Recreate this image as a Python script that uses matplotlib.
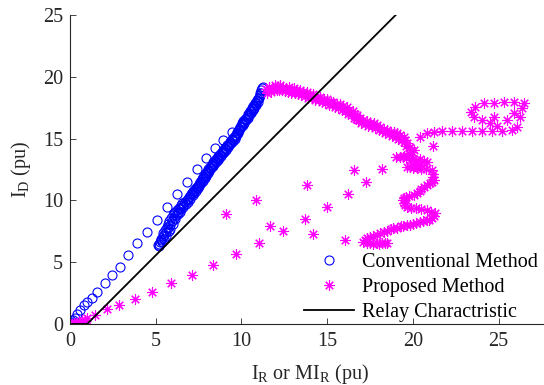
import matplotlib
matplotlib.use('Agg')
import matplotlib.pyplot as plt

plt.rcParams['font.family'] = 'Liberation Serif'
plt.rcParams['mathtext.fontset'] = 'custom'
plt.rcParams['mathtext.rm'] = 'Liberation Serif'

# Conventional method (blue circles): sparse ray + dense band (two passes)
conv_x = [0.0, 0.05, 0.12, 0.19, 0.3, 0.42, 0.58, 0.8, 1.02, 1.27, 1.6, 2.04, 2.45, 2.92, 3.4, 3.93, 4.5, 5.10, 5.68,
          6.26, 6.85, 7.43, 7.95, 8.46, 8.95, 9.44,
          5.16, 5.25, 5.30, 5.40, 5.45, 5.55, 5.64, 5.70, 5.80, 5.90, 5.98, 6.08, 6.15, 6.23, 6.35, 6.45,
          6.55, 6.68, 6.81, 6.95, 7.08, 7.20, 7.30, 7.40, 7.50, 7.60, 7.70, 7.78, 7.88, 7.98, 8.07, 8.17,
          8.27, 8.37, 8.46, 8.56, 8.66, 8.75, 8.85, 8.95, 9.05, 9.15, 9.25, 9.34, 9.44, 9.54, 9.63, 9.73,
          9.83, 9.92, 10.02, 10.12, 10.21, 10.31, 10.41, 10.51, 10.61, 10.70, 10.80, 10.90, 11.00, 11.10,
          11.19, 11.25,
          5.22, 5.35, 5.5, 5.6, 5.75, 5.85, 6.0, 6.12, 6.3, 6.4, 6.5, 6.62, 6.75, 6.88, 7.0, 7.15, 7.25,
          7.35, 7.45, 7.55, 7.65, 7.75, 7.85, 7.95, 8.05, 8.12, 8.22, 8.32, 8.42, 8.52, 8.62, 8.7, 8.8,
          8.9, 9.0, 9.1, 9.2, 9.3, 9.4, 9.5, 9.6, 9.68, 9.78, 9.88, 9.98, 10.07, 10.17, 10.26, 10.36,
          10.46, 10.56, 10.66, 10.75, 10.85, 10.95, 11.05, 11.15]
conv_y = [0.0, 0.1, 0.2, 0.32, 0.5, 0.8, 1.13, 1.5, 1.8, 2.08, 2.6, 3.29, 3.95, 4.64, 5.6, 6.53, 7.45, 8.41, 9.45,
          10.49, 11.5, 12.52, 13.4, 14.22, 14.9, 15.56,
          6.39, 6.6, 6.9, 7.1, 7.4, 7.6, 7.87, 8.1, 8.3, 8.55, 8.8, 9.0, 9.1, 9.22, 9.4, 9.6,
          9.75, 9.9, 10.03, 10.3, 10.55, 10.8, 10.95, 11.11, 11.3, 11.5, 11.7, 11.92, 12.1, 12.3, 12.5, 12.73,
          12.9, 13.1, 13.25, 13.40, 13.6, 13.75, 13.9, 14.08, 14.25, 14.45, 14.6, 14.75, 14.95, 15.1, 15.25, 15.43,
          15.7, 15.95, 16.24, 16.45, 16.6, 16.77, 17.0, 17.2, 17.45, 17.65, 17.85, 18.12, 18.4, 18.7,
          19.07, 19.2,
          6.3, 6.6, 6.9, 7.1, 7.5, 7.7, 8.1, 8.5, 8.9, 9.1, 9.3, 9.5, 9.7, 9.9, 10.1, 10.4, 10.6,
          10.8, 11.0, 11.2, 11.4, 11.6, 11.8, 12.0, 12.2, 12.4, 12.6, 12.8, 12.95, 13.1, 13.3, 13.45, 13.6,
          13.8, 13.95, 14.1, 14.3, 14.5, 14.65, 14.8, 15.0, 15.2, 15.45, 15.7, 15.95, 16.1, 16.3, 16.5, 16.7,
          16.9, 17.1, 17.3, 17.5, 17.75, 18.0, 18.3, 18.7]

# third pass through the dense blue band
conv_band_x = [5.19, 5.32, 5.47, 5.58, 5.72, 5.84, 5.95, 6.06, 6.2, 6.32, 6.42, 6.58, 6.72, 6.86, 7.0, 7.12,
               7.24, 7.36, 7.46, 7.56, 7.66, 7.76, 7.86, 7.96, 8.06, 8.16, 8.26, 8.36, 8.46, 8.56, 8.66, 8.76,
               8.86, 8.96, 9.06, 9.16, 9.26, 9.36, 9.46, 9.56, 9.66, 9.76, 9.86, 9.96, 10.06, 10.16, 10.26,
               10.36, 10.46, 10.56, 10.66, 10.76, 10.86, 10.96, 11.06, 11.16]
conv_band_y = [6.5, 6.8, 7.2, 7.45, 7.75, 8.05, 8.35, 8.6, 8.85, 9.1, 9.35, 9.6, 9.85, 10.1, 10.35, 10.6,
               10.8, 11.0, 11.2, 11.4, 11.6, 11.8, 12.0, 12.2, 12.4, 12.6, 12.8, 13.0, 13.15, 13.35, 13.5, 13.7,
               13.85, 14.0, 14.2, 14.4, 14.55, 14.7, 14.9, 15.05, 15.3, 15.5, 15.8, 16.05, 16.2, 16.4, 16.6,
               16.8, 17.0, 17.2, 17.4, 17.6, 17.9, 18.2, 18.5, 18.9]

# Proposed method (magenta stars)
prop_x = [0.1, 0.25, 0.4, 0.55, 0.7, 0.85, 1.0, 0.3, 0.6, 0.9,
          1.46, 2.14, 2.88, 3.79, 4.77, 5.90, 7.14, 8.37, 9.67, 11.05, 12.41, 14.15, 16.05,
          9.09, 10.85, 11.68, 13.72, 13.82, 14.98, 16.19, 16.58, 17.28, 18.19, 19.01, 21.15,
          11.45, 11.6, 11.8, 11.95, 12.1, 12.26, 12.45, 12.6, 12.8, 13.04, 13.2, 13.4, 13.6, 13.82, 14.0,
          14.2, 14.4, 14.59, 14.8, 15.0, 15.2, 15.37, 15.55, 15.75, 15.95, 16.15, 16.3, 16.5, 16.6, 16.74,
          16.9, 17.12, 17.3, 17.5, 17.71, 17.9, 18.1, 18.3, 18.49, 18.7, 18.9, 19.07, 19.25, 19.46, 19.55,
          19.65, 19.85, 20.04,
          11.5, 11.7, 11.9, 12.05, 12.2, 12.35, 12.55, 12.7, 12.9, 13.1, 13.3, 13.5, 13.7, 13.9, 14.1,
          14.3, 14.5, 14.7, 14.9, 15.1, 15.3, 15.45, 15.65, 15.85, 16.05, 16.2, 16.4, 16.55, 16.7, 16.82,
          17.0, 17.2, 17.4, 17.6, 17.8, 18.0, 18.2, 18.4, 18.6, 18.8, 19.0, 19.15, 19.35, 19.5, 19.6,
          19.75, 19.95,
          19.8, 19.5, 19.26, 19.6, 20.0, 20.43, 20.82, 20.5, 20.1, 19.65, 20.0, 20.5, 21.11, 21.2, 21.21,
          21.0, 20.82, 20.5, 20.24, 19.8, 19.46, 19.5, 19.65, 20.2, 20.82, 21.31, 21.11, 20.8, 20.43, 20.0,
          19.65, 19.3, 18.87, 18.5, 18.10, 17.7, 17.32, 17.12, 17.5, 17.90, 18.2, 18.49,
          19.4, 19.9, 20.2, 20.65, 20.3, 19.85, 20.25, 20.75, 21.15, 21.1, 20.65, 20.4, 20.05, 19.6, 19.45,
          19.55, 19.9, 20.5, 21.05, 21.25, 20.95, 20.6, 20.2, 19.85, 19.45, 19.1, 18.7, 18.3, 17.9, 17.5,
          17.2, 17.3, 17.7, 18.05, 18.35,
          20.43, 20.82, 21.21, 21.70, 22.28, 22.87, 23.45, 24.03, 24.62, 25.20, 25.79, 26.08,
          26.27, 26.37, 26.46, 25.88, 25.30, 24.71, 24.13, 23.64, 23.39, 23.55, 24.03, 24.52, 24.91,
          24.71, 25.49, 25.88]
prop_y = [0.0, 0.05, 0.1, 0.2, 0.3, 0.35, 0.45, 0.0, 0.0, 0.1,
          0.73, 1.19, 1.54, 2.05, 2.61, 3.29, 3.96, 4.77, 5.66, 6.58, 7.52, 7.28, 6.80,
          8.90, 10.03, 7.93, 8.47, 11.25, 9.49, 10.49, 12.46, 11.51, 12.51, 13.48, 14.40,
          19.0, 19.2, 19.1, 19.3, 19.2, 19.34, 19.2, 19.1, 19.15, 19.07, 18.9, 18.95, 18.8, 18.80, 18.6,
          18.6, 18.4, 18.39, 18.2, 18.2, 18.0, 17.99, 17.8, 17.8, 17.6, 17.58, 17.3, 17.2, 17.0, 16.91,
          16.7, 16.50, 16.4, 16.3, 16.24, 16.1, 15.9, 15.8, 15.70, 15.5, 15.5, 15.43, 15.3, 15.15, 14.9,
          14.62, 14.3, 14.08,
          18.7, 18.8, 18.9, 18.9, 18.95, 18.9, 18.85, 18.8, 18.7, 18.65, 18.6, 18.5, 18.45, 18.3, 18.3,
          18.15, 18.1, 17.95, 17.9, 17.75, 17.7, 17.55, 17.5, 17.3, 17.25, 17.0, 16.95, 16.7, 16.6, 16.5,
          16.3, 16.2, 16.05, 16.0, 15.85, 15.7, 15.6, 15.45, 15.35, 15.25, 15.15, 15.0, 14.85, 14.7, 14.4,
          14.2, 13.9,
          13.8, 13.6, 13.49, 13.4, 13.35, 13.32, 13.13, 12.9, 12.8, 12.73, 12.6, 12.55, 12.46, 12.1, 11.65,
          11.4, 11.25, 10.9, 10.57, 10.35, 10.17, 9.8, 9.49, 9.35, 9.22, 8.95, 8.55, 8.4, 8.28, 8.1,
          8.01, 7.9, 7.74, 7.55, 7.34, 7.1, 6.93, 6.66, 6.55, 6.53, 6.55, 6.58,
          13.55, 13.3, 13.3, 13.2, 12.85, 12.7, 12.6, 12.5, 11.9, 11.5, 11.1, 10.75, 10.45, 10.25, 10.0,
          9.6, 9.4, 9.3, 9.1, 8.75, 8.45, 8.35, 8.2, 8.05, 7.95, 7.8, 7.65, 7.45, 7.2, 7.0,
          6.8, 6.55, 6.5, 6.5, 6.55,
          15.15, 15.43, 15.56, 15.61, 15.61, 15.61, 15.61, 15.61, 15.61, 15.61, 15.70, 15.97,
          16.77, 17.45, 17.85, 17.99, 17.99, 17.90, 17.85, 17.58, 17.18, 16.77, 16.50, 16.24, 16.02,
          16.77, 16.50, 17.05]

# Relay characteristic
relay_x = [0, 1.0, 19.0]
relay_y = [0, 0, 25.0]

fig = plt.figure(figsize=(5.44, 3.85), dpi=100)
ax = fig.add_axes([70/544, 61/385, 480/544, 309/385])

circle_style = dict(linestyle='none', marker='o', markersize=6.5, markerfacecolor='none',
                    markeredgecolor='#0000ff', markeredgewidth=0.8)
ax.plot(conv_x, conv_y, label='Conventional Method', **circle_style)
ax.plot(conv_band_x, conv_band_y, **circle_style)
ax.plot(prop_x, prop_y, linestyle='none', marker=(8, 2, 0), markersize=7.5,
        markeredgecolor='#ff00ff', markeredgewidth=0.8, label='Proposed Method')
ax.plot(relay_x, relay_y, color='black', linewidth=1.3, label='Relay Charactristic')

ax.set_xlim(0, 28)
ax.set_ylim(0, 25)
ax.set_xticks([0, 5, 10, 15, 20, 25])
ax.set_yticks([0, 5, 10, 15, 20, 25])
ax.tick_params(direction='in', length=4, labelsize=14.5, colors='#262626', width=0.6)
ax.tick_params(axis='x', pad=6)
ax.tick_params(axis='y', pad=5)
for s in ['top', 'right']:
    ax.spines[s].set_visible(False)
for s in ['left', 'bottom']:
    ax.spines[s].set_color('#262626')
    ax.spines[s].set_linewidth(0.8)

ax.set_xlabel(r'I$_\mathregular{R}$ or MI$_\mathregular{R}$ (pu)', fontsize=14.5, color='#262626', labelpad=8)
ax.set_ylabel(r'I$_\mathregular{D}$ (pu)', fontsize=14.5, color='#262626', labelpad=7)

ax.legend(loc='lower right', bbox_to_anchor=(544/544, 57/385), bbox_transform=fig.transFigure,
          frameon=False, fontsize=14.5, handlelength=2.5, borderpad=0.1, labelspacing=0.28,
          handletextpad=0.4, borderaxespad=0.2)

fig.savefig('out.png', dpi=100)
